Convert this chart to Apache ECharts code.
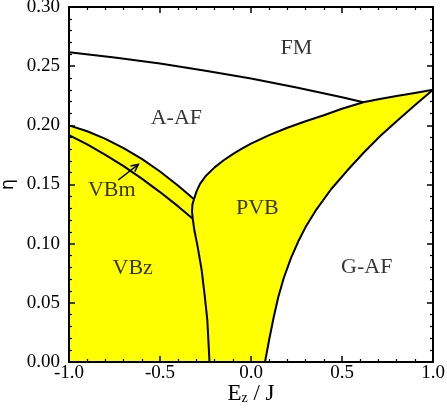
<!DOCTYPE html>
<html>
<head>
<meta charset="utf-8">
<script src="https://cdn.jsdelivr.net/npm/echarts@6/dist/echarts.min.js"></script>
<style>
html,body{margin:0;padding:0;background:#fff;}
#chart{width:447px;height:411px;}
</style>
</head>
<body>
<div id="chart"></div>
<script>
// ---- data ----
const xTicks = [-1.0, -0.5, 0.0, 0.5, 1.0];
const yTicks = [0.00, 0.05, 0.10, 0.15, 0.20, 0.25, 0.30];

// FM / A-AF boundary
const fmX = [-1, -0.75, -0.5, -0.25, 0, 0.25, 0.5, 0.617];
const fmY = [0.2617, 0.2573, 0.2522, 0.2462, 0.2395, 0.2320, 0.2237, 0.2195];

// A-AF / VBm boundary
const vbUpX = [-1, -0.9, -0.8, -0.7, -0.6, -0.5, -0.4, -0.313];
const vbUpY = [0.200, 0.195, 0.1886, 0.1808, 0.1716, 0.161, 0.149, 0.1375];

// VBm / VBz boundary
const vbmX = [-1, -0.9, -0.8, -0.7, -0.6, -0.5, -0.4, -0.32];
const vbmY = [0.1918, 0.1839, 0.1751, 0.1655, 0.155, 0.1436, 0.1315, 0.1211];

// VB / PVB boundary (near vertical)
const vertX = [-0.313, -0.322, -0.324, -0.320, -0.3115, -0.295, -0.271, -0.255, -0.240, -0.228];
const vertY = [0.1375, 0.133, 0.127, 0.1211, 0.1115, 0.099, 0.0777, 0.057, 0.0355, 0.0];

// PVB upper boundary (A-AF / FM)
const pvbUpX = [-0.313, -0.30, -0.28, -0.25, -0.20, -0.15, -0.10, -0.05, 0.0, 0.10, 0.20, 0.30, 0.40, 0.50, 0.617, 0.70, 0.80, 0.90, 1.0];
const pvbUpY = [0.1375, 0.1440, 0.1505, 0.1570, 0.1645, 0.1705, 0.1757, 0.1803, 0.1845, 0.1917, 0.1980, 0.2035, 0.2085, 0.2140, 0.2195, 0.2220, 0.2247, 0.2274, 0.2300];

// PVB / G-AF boundary
const pvbRX = [0.077, 0.10, 0.125, 0.15, 0.18, 0.22, 0.26, 0.30, 0.36, 0.44, 0.53, 0.62, 0.71, 0.80, 0.90, 1.0];
const pvbRY = [0.0, 0.019, 0.038, 0.055, 0.071, 0.088, 0.102, 0.114, 0.129, 0.146, 0.162, 0.177, 0.191, 0.2035, 0.217, 0.230];

// phase labels
const labelText = ['FM', 'A-AF', 'VBm', 'PVB', 'VBz', 'G-AF'];
const labelX = [0.25, -0.41, -0.765, 0.035, -0.65, 0.636];
const labelY = [0.265, 0.206, 0.145, 0.130, 0.079, 0.0805];

// arrow VBm -> region
const arrowFrom = [-0.729, 0.1538];
const arrowTo = [-0.619, 0.167];

// ---- build ----
const pairs = (xs, ys) => xs.map((x, i) => [x, ys[i]]);

// yellow region: left edge, VB top, PVB top, PVB right (reversed), bottom
const polyPts = [[-1, 0]]
  .concat(pairs(vbUpX, vbUpY))
  .concat(pairs(pvbUpX, pvbUpY).slice(1))
  .concat(pairs(pvbRX, pvbRY).slice(0, -1).reverse());

const FONT = 'Liberation Serif';

function lineSeries(xs, ys) {
  return {
    type: 'line', data: pairs(xs, ys), symbol: 'none', z: 5,
    lineStyle: { color: '#000', width: 2 }, silent: true
  };
}

const tickCommon = {
  axisLine: { show: true, onZero: false, lineStyle: { color: '#000', width: 2 } },
  axisTick: { show: true, inside: true, length: 6, lineStyle: { color: '#000', width: 1.5 } },
  minorTick: { show: true, splitNumber: 5, length: 3, lineStyle: { color: '#000', width: 1.2 } },
  splitLine: { show: false },
  minorSplitLine: { show: false },
  z: 10
};

const option = {
  animation: false,
  backgroundColor: '#fff',
  grid: { left: 69, right: 14, top: 7, bottom: 49, containLabel: false, outerBoundsMode: 'none' },
  xAxis: [
    Object.assign({
      type: 'value', min: -1, max: 1, interval: 0.5, position: 'bottom',
      axisLabel: { show: true, margin: 2, color: '#000', fontFamily: FONT, fontSize: 19,
        formatter: v => xTicks.find(t => Math.abs(t - v) < 1e-9).toFixed(1) },
      name: '{e|E}{sub|z}{e| / J}',
      nameLocation: 'middle', nameGap: 20, nameMoveOverlap: false,
      nameTextStyle: {
        color: '#000',
        rich: {
          e: { fontFamily: FONT, fontSize: 23, lineHeight: 23, verticalAlign: 'top', color: '#000' },
          sub: { fontFamily: FONT, fontSize: 14, lineHeight: 14, verticalAlign: 'bottom', padding: [21, 0, 0, 0], color: '#000' }
        }
      }
    }, tickCommon),
    Object.assign({
      type: 'value', min: -1, max: 1, interval: 0.5, position: 'top',
      axisLabel: { show: false }
    }, tickCommon)
  ],
  yAxis: [
    Object.assign({
      type: 'value', min: 0, max: 0.3, interval: 0.05, position: 'left',
      axisLabel: { show: true, margin: 9, color: '#000', fontFamily: FONT, fontSize: 19,
        formatter: v => yTicks.find(t => Math.abs(t - v) < 1e-9).toFixed(2) },
      name: 'η', nameLocation: 'middle', nameRotate: 90, nameGap: 52, nameMoveOverlap: false,
      nameTextStyle: { color: '#000', fontFamily: 'DejaVu Sans', fontSize: 18 }
    }, tickCommon),
    Object.assign({
      type: 'value', min: 0, max: 0.3, interval: 0.05, position: 'right',
      axisLabel: { show: false }
    }, tickCommon)
  ],
  series: [
    {
      type: 'custom', coordinateSystem: 'cartesian2d', xAxisIndex: 0, yAxisIndex: 0,
      data: [[0, 0]], z: 1, silent: true, clip: false,
      renderItem: function (params, api) {
        const pts = polyPts.map(p => api.coord(p));
        return { type: 'polygon', shape: { points: pts }, style: { fill: '#ffff00', stroke: null } };
      }
    },
    lineSeries(fmX, fmY),
    lineSeries(vbUpX, vbUpY),
    lineSeries(vbmX, vbmY),
    lineSeries(vertX, vertY),
    lineSeries(pvbUpX, pvbUpY),
    lineSeries(pvbRX, pvbRY),
    {
      type: 'custom', coordinateSystem: 'cartesian2d', data: [[0, 0]], z: 6, silent: true,
      renderItem: function (params, api) {
        const a = api.coord(arrowFrom), b = api.coord(arrowTo);
        const ang = Math.atan2(b[1] - a[1], b[0] - a[0]);
        const L = 8, w = 0.45;
        const h1 = [b[0] - L * Math.cos(ang - w), b[1] - L * Math.sin(ang - w)];
        const h2 = [b[0] - L * Math.cos(ang + w), b[1] - L * Math.sin(ang + w)];
        return {
          type: 'group', children: [
            { type: 'line', shape: { x1: a[0], y1: a[1], x2: b[0], y2: b[1] }, style: { stroke: '#000', lineWidth: 1.5 } },
            { type: 'polyline', shape: { points: [h1, b, h2] }, style: { stroke: '#000', fill: null, lineWidth: 1.5 } }
          ]
        };
      }
    },
    {
      type: 'scatter', data: labelX.map((x, i) => [x, labelY[i], labelText[i]]),
      symbolSize: 1, itemStyle: { color: 'rgba(0,0,0,0)' }, z: 7, silent: true,
      label: {
        show: true, position: 'inside', color: '#000', fontFamily: FONT, fontSize: 22,
        formatter: p => p.data[2]
      }
    }
  ]
};

const chart = echarts.init(document.getElementById('chart'), null, { renderer: 'canvas' });
chart.setOption(option);
</script>
</body>
</html>
